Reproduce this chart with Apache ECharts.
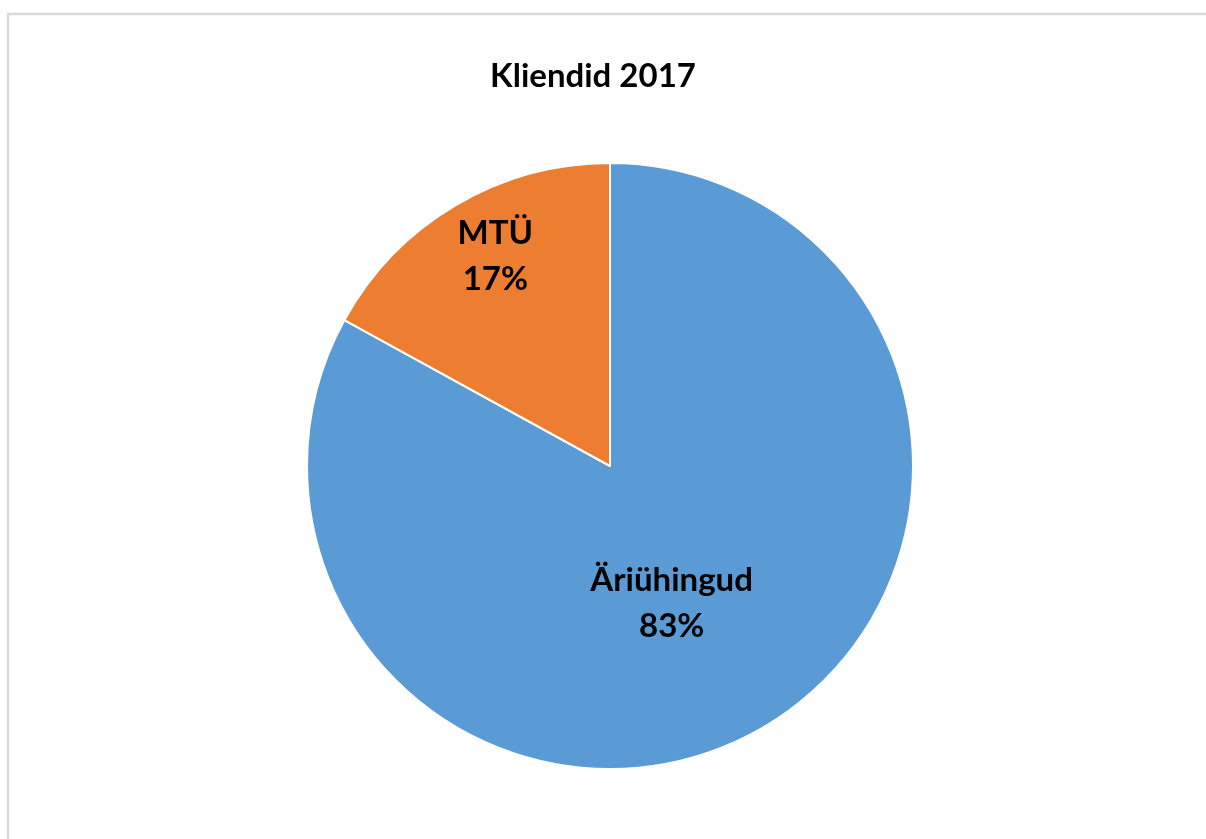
<!DOCTYPE html>
<html>
<head>
<meta charset="utf-8">
<script src="https://cdn.jsdelivr.net/npm/echarts@6/dist/echarts.min.js"></script>
<style>
  html, body { margin: 0; padding: 0; background: #fff; }
  #chart { width: 1206px; height: 839px; }
</style>
</head>
<body>
<div id="chart"></div>
<script>
const titleText = 'Kliendid 2017';
const categories = ['Äriühingud', 'MTÜ'];
const values = [83, 17];
const colors = ['#5B9BD5', '#ED7D31'];
const labelOffsets = [[-17, 4], [-36, -77]];

const chart = echarts.init(document.getElementById('chart'), null, { renderer: 'canvas' });
const font = 'Lato, "Open Sans", sans-serif';

chart.setOption({
  backgroundColor: '#fff',
  animation: false,
  graphic: [{
    type: 'rect',
    shape: { x: 8, y: 14, width: 1400, height: 1000 },
    style: { fill: 'none', stroke: '#d9d9d9', lineWidth: 2.5 },
    silent: true
  }],
  title: {
    text: titleText,
    left: 588,
    top: 55,
    textAlign: 'center',
    textStyle: { fontFamily: font, fontWeight: 'bold', fontSize: 33, color: '#000' }
  },
  series: [{
    type: 'pie',
    center: [610, 466],
    radius: 303,
    startAngle: 90,
    clockwise: true,
    percentPrecision: 0,
    itemStyle: { borderColor: '#fff', borderWidth: 2 },
    label: {
      position: 'inside',
      formatter: '{b}\n{d}%',
      fontFamily: font,
      fontWeight: 'bold',
      fontSize: 33,
      lineHeight: 46,
      color: '#000',
      align: 'center'
    },
    labelLine: { show: false },
    emphasis: { disabled: true },
    data: categories.map((c, i) => ({
      name: c,
      value: values[i],
      itemStyle: { color: colors[i] },
      label: { offset: labelOffsets[i] }
    }))
  }]
});
</script>
</body>
</html>
